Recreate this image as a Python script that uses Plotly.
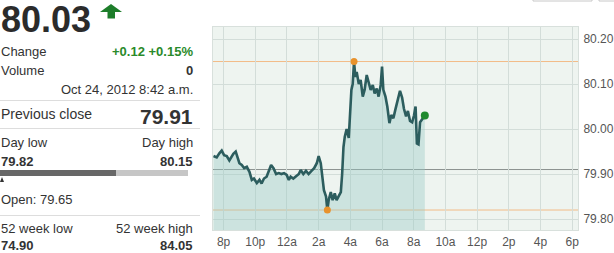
import plotly.graph_objects as go
import pandas as pd

# ---------------- data ----------------
times = [
    "2012-10-23 19:22", "2012-10-23 19:34", "2012-10-23 19:44", "2012-10-23 19:53",
    "2012-10-23 20:02", "2012-10-23 20:12", "2012-10-23 20:22", "2012-10-23 20:31",
    "2012-10-23 20:37", "2012-10-23 20:46", "2012-10-23 20:52", "2012-10-23 21:00",
    "2012-10-23 21:09", "2012-10-23 21:18", "2012-10-23 21:28", "2012-10-23 21:38",
    "2012-10-23 21:47", "2012-10-23 21:55", "2012-10-23 22:06", "2012-10-23 22:16",
    "2012-10-23 22:24", "2012-10-23 22:33", "2012-10-23 22:43", "2012-10-23 22:52",
    "2012-10-23 23:00", "2012-10-23 23:09", "2012-10-23 23:19", "2012-10-23 23:29",
    "2012-10-23 23:39", "2012-10-23 23:49", "2012-10-23 23:59", "2012-10-24 00:07",
    "2012-10-24 00:14", "2012-10-24 00:24", "2012-10-24 00:34", "2012-10-24 00:45",
    "2012-10-24 00:52", "2012-10-24 01:02", "2012-10-24 01:12", "2012-10-24 01:22",
    "2012-10-24 01:33", "2012-10-24 01:43", "2012-10-24 01:53", "2012-10-24 02:00",
    "2012-10-24 02:08", "2012-10-24 02:15", "2012-10-24 02:20", "2012-10-24 02:28",
    "2012-10-24 02:33", "2012-10-24 02:38", "2012-10-24 02:46", "2012-10-24 02:53",
    "2012-10-24 03:01", "2012-10-24 03:08", "2012-10-24 03:16", "2012-10-24 03:24",
    "2012-10-24 03:29", "2012-10-24 03:34", "2012-10-24 03:39", "2012-10-24 03:46",
    "2012-10-24 03:54", "2012-10-24 03:59", "2012-10-24 04:04", "2012-10-24 04:09",
    "2012-10-24 04:14", "2012-10-24 04:19", "2012-10-24 04:24", "2012-10-24 04:32",
    "2012-10-24 04:39", "2012-10-24 04:47", "2012-10-24 04:54", "2012-10-24 05:02",
    "2012-10-24 05:10", "2012-10-24 05:17", "2012-10-24 05:25", "2012-10-24 05:32",
    "2012-10-24 05:40", "2012-10-24 05:47", "2012-10-24 05:55", "2012-10-24 06:00",
    "2012-10-24 06:05", "2012-10-24 06:13", "2012-10-24 06:20", "2012-10-24 06:28",
    "2012-10-24 06:35", "2012-10-24 06:43", "2012-10-24 06:50", "2012-10-24 06:58",
    "2012-10-24 07:08", "2012-10-24 07:16", "2012-10-24 07:23", "2012-10-24 07:31",
    "2012-10-24 07:38", "2012-10-24 07:46", "2012-10-24 07:54", "2012-10-24 08:01",
    "2012-10-24 08:07", "2012-10-24 08:12", "2012-10-24 08:18", "2012-10-24 08:24",
    "2012-10-24 08:30", "2012-10-24 08:35", "2012-10-24 08:42",
]
prices = [
    79.940, 79.937, 79.946, 79.952,
    79.942, 79.940, 79.930, 79.940,
    79.945, 79.950, 79.940, 79.924,
    79.920, 79.913, 79.916, 79.905,
    79.887, 79.890, 79.880, 79.887,
    79.879, 79.890, 79.894, 79.909,
    79.920, 79.913, 79.900, 79.902,
    79.900, 79.902, 79.898, 79.887,
    79.894, 79.890, 79.894, 79.900,
    79.909, 79.900, 79.907, 79.900,
    79.907, 79.913, 79.924, 79.940,
    79.924, 79.894, 79.864, 79.850,
    79.820, 79.842, 79.860, 79.842,
    79.857, 79.842, 79.850, 79.860,
    79.900, 79.960, 79.983, 80.000,
    79.980, 80.035, 80.087, 80.100,
    80.150, 80.116, 80.127, 80.100,
    80.109, 80.072, 80.087, 80.120,
    80.105, 80.087, 80.098, 80.079,
    80.090, 80.072, 80.098, 80.139,
    80.087, 80.072, 80.050, 80.013,
    80.031, 80.024, 80.042, 80.064,
    80.085, 80.070, 80.045, 80.028,
    80.040, 80.018, 80.015, 80.030,
    80.050, 79.968, 79.966, 80.015,
    80.020, 80.024, 80.030,
]
prev_close = 79.91
day_low = 79.82
day_high = 80.15

x_tick_times = [
    "2012-10-23 20:00", "2012-10-23 22:00", "2012-10-24 00:00", "2012-10-24 02:00",
    "2012-10-24 04:00", "2012-10-24 06:00", "2012-10-24 08:00", "2012-10-24 10:00",
    "2012-10-24 12:00", "2012-10-24 14:00", "2012-10-24 16:00", "2012-10-24 18:00",
]
x_tick_labels = ["8p", "10p", "12a", "2a", "4a", "6a", "8a", "10a", "12p", "2p", "4p", "6p"]
y_ticks = [79.80, 79.90, 80.00, 80.10, 80.20]

# ---------------- layout helpers ----------------
W, H = 614, 253
L, R, T, B = 213, 36, 27, 23
PW, PH = W - L - R, H - T - B


def px(x):
    return (x - L) / PW


def py(y):
    return 1 - (y - T) / PH


FONT = "Liberation Sans, Arial, sans-serif"
DARK = "#333333"
GREEN = "#2a8a2a"

ts = pd.to_datetime(times)
s = pd.Series(prices, index=ts)
i_hi = s.idxmax()
i_lo = s.idxmin()

fig = go.Figure()
fig.add_trace(go.Scatter(
    x=ts, y=prices, mode="lines",
    line=dict(color="#2c5d5e", width=2.6),
    fill="tozeroy", fillcolor="rgba(150,200,195,0.38)",
    hoverinfo="skip", showlegend=False,
))
fig.add_trace(go.Scatter(
    x=[i_hi, i_lo], y=[s[i_hi], s[i_lo]], mode="markers",
    marker=dict(color="#e8922c", size=7), showlegend=False, hoverinfo="skip",
))
fig.add_trace(go.Scatter(
    x=[ts[-1]], y=[prices[-1]], mode="markers",
    marker=dict(color="#1f8a2e", size=8), showlegend=False, hoverinfo="skip",
))

# reference lines
for val, col in [(day_high, "#f2bb88"), (day_low, "#f2bb88"), (prev_close, "#8c9290")]:
    fig.add_shape(type="line", xref="paper", x0=0, x1=1, yref="y", y0=val, y1=val,
                  line=dict(color=col, width=1), layer="between")

shapes = []
# separators in left panel
for yy in [100.5, 128.5, 215.5]:
    shapes.append(dict(type="line", xref="paper", yref="paper", x0=px(0), x1=px(200),
                       y0=py(yy), y1=py(yy), line=dict(color="#dddddd", width=1)))
# day range bar
shapes.append(dict(type="rect", xref="paper", yref="paper", x0=px(0), x1=px(116),
                   y0=py(176), y1=py(170), fillcolor="#676767", line=dict(width=0)))
shapes.append(dict(type="rect", xref="paper", yref="paper", x0=px(116), x1=px(188),
                   y0=py(176), y1=py(170), fillcolor="#c6c6c6", line=dict(width=0)))
# open marker triangle
shapes.append(dict(type="path", xref="paper", yref="paper",
                   path=f"M {px(0)} {py(182)} L {px(2)} {py(177)} L {px(4)} {py(182)} Z",
                   fillcolor="#333333", line=dict(width=0)))
# green up arrow
ax = [(111, 4), (122, 12), (115, 12), (115, 18.5), (107.5, 18.5), (107.5, 12), (100, 12)]
path = "M " + " L ".join(f"{px(a)} {py(b)}" for a, b in ax) + " Z"
shapes.append(dict(type="path", xref="paper", yref="paper", path=path,
                   fillcolor="#1d7d2a", line=dict(width=0)))
# partial UI boxes at top right
shapes.append(dict(type="rect", xref="paper", yref="paper", x0=px(533), x1=px(592),
                   y0=py(1), y1=py(-10), line=dict(color="#c8c8c8", width=1)))
shapes.append(dict(type="rect", xref="paper", yref="paper", x0=px(599), x1=px(620),
                   y0=py(1), y1=py(-10), line=dict(color="#c8c8c8", width=1)))
for sh in shapes:
    fig.add_shape(**sh)

ann = []


def text(t, x, y, size=13, bold=False, color=DARK, anchor="left"):
    ann.append(dict(text=f"<b>{t}</b>" if bold else t, xref="paper", yref="paper",
                    x=px(x), y=py(y), xanchor=anchor, yanchor="middle", showarrow=False,
                    font=dict(family=FONT, size=size, color=color), borderpad=0))


RX = 194
text("80.03", 0, 19, size=36, bold=True, color="#2b2b2b")
text("Change", 0, 52, size=13)
text("+0.12 +0.15%", RX, 52, size=13, bold=True, color=GREEN, anchor="right")
text("Volume", 0, 70, size=13)
text("0", RX, 70, size=13, bold=True, anchor="right")
text("Oct 24, 2012 8:42 a.m.", RX, 89, size=13, anchor="right")
text("Previous close", 0, 114, size=14)
text("79.91", RX, 116, size=21, bold=True, anchor="right")
text("Day low", 0, 142, size=13)
text("Day high", RX, 142, size=13, anchor="right")
text("79.82", 0, 161, size=13, bold=True)
text("80.15", RX, 161, size=13, bold=True, anchor="right")
text("Open: 79.65", 0, 199, size=13)
text("52 week low", 0, 228, size=13)
text("52 week high", RX, 228, size=13, anchor="right")
text("74.90", 0, 246, size=13, bold=True)
text("84.05", RX, 246, size=13, bold=True, anchor="right")

fig.update_layout(
    width=W, height=H, autosize=False,
    margin=dict(l=L, r=R, t=T, b=B, pad=0),
    paper_bgcolor="white", plot_bgcolor="#eef4f0",
    annotations=ann,
    showlegend=False,
    xaxis=dict(
        type="date", automargin=False,
        range=["2012-10-23 19:20", "2012-10-24 18:22"],
        tickvals=pd.to_datetime(x_tick_times), ticktext=x_tick_labels,
        showgrid=True, gridcolor="#d3ddd9", gridwidth=1,
        ticks="outside", ticklen=1, tickcolor="rgba(0,0,0,0)",
        tickfont=dict(family=FONT, size=12, color="#555555"),
        showline=True, linecolor="#d8e0dc", mirror=True, zeroline=False,
    ),
    yaxis=dict(
        side="right", automargin=False,
        range=[79.7756, 80.2267],
        tickvals=y_ticks, tickformat=".2f",
        showgrid=True, gridcolor="#d3ddd9", gridwidth=1,
        ticks="outside", ticklen=2, tickcolor="rgba(0,0,0,0)",
        tickfont=dict(family=FONT, size=12, color="#555555"),
        showline=True, linecolor="#d8e0dc", mirror=True, zeroline=False,
    ),
)

fig.write_html("out.html")
